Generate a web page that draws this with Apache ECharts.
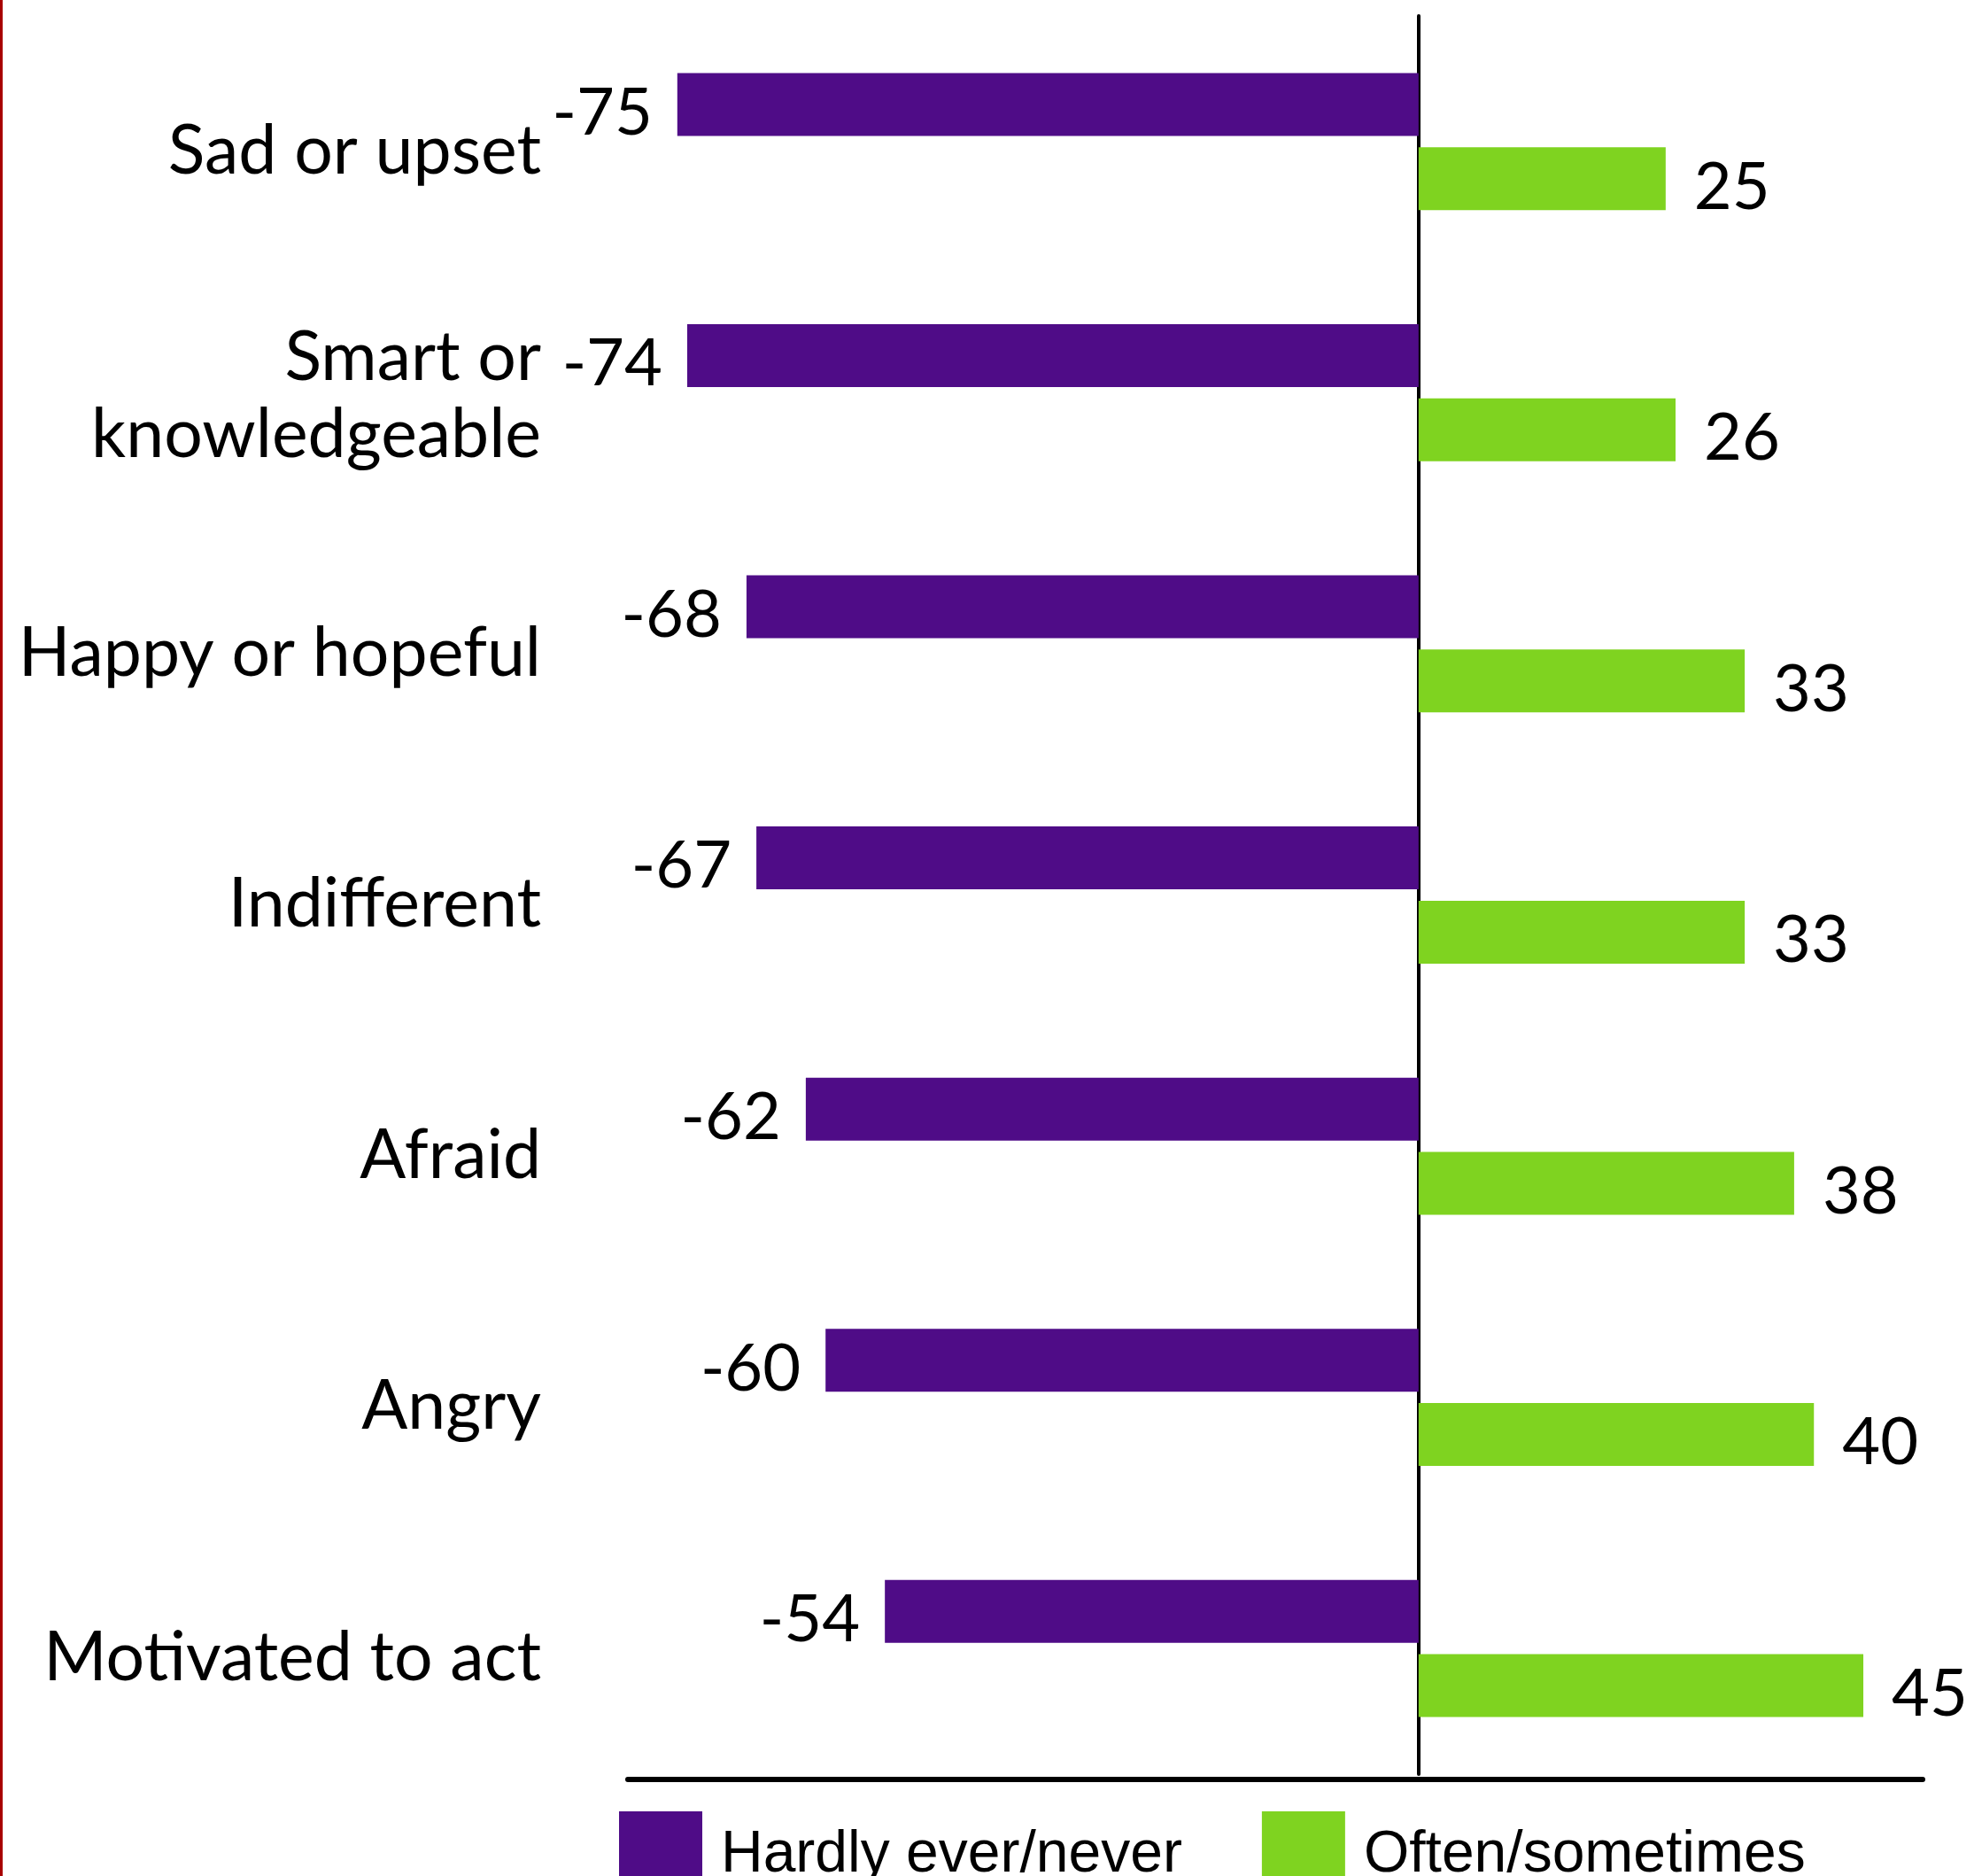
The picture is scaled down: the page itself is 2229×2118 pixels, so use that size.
<!DOCTYPE html>
<html>
<head>
<meta charset="utf-8">
<script src="https://cdn.jsdelivr.net/npm/echarts@6/dist/echarts.min.js"></script>
<style>
  html, body {margin: 0; padding: 0; background: #fff;}
  #chart {width: 2229px; height: 2118px;}
</style>
</head>
<body>
<div id="chart"></div>
<script>
var categories = ['Sad or upset', 'Smart or\nknowledgeable', 'Happy or hopeful', 'Indifferent', 'Afraid', 'Angry', 'Motivated to act'];
var hardlyEver = [-75, -74, -68, -67, -62, -60, -54];
var oftenSometimes = [25, 26, 33, 33, 38, 40, 45];
var seriesNames = ['Hardly ever/never', 'Often/sometimes'];

var chart = echarts.init(document.getElementById('chart'));

var labelFont = {fontFamily: 'Lato', fontSize: 74, color: '#000'};
var catFont = {fontFamily: 'Lato', fontSize: 77, color: '#000', align: 'right'};

var option = {
    animation: false,
    backgroundColor: '#fff',
    grid: {left: 709, right: 58, top: 18, bottom: 115},
    xAxis: {
        type: 'value', min: -80, max: 51, offset: 6,
        axisLine: {show: true, onZero: false, lineStyle: {color: '#000', width: 6}},
        axisTick: {show: false}, axisLabel: {show: false}, splitLine: {show: false}
    },
    yAxis: {
        type: 'category', data: categories, inverse: true,
        axisLine: {show: true, onZero: true, lineStyle: {color: '#000', width: 4}},
        axisTick: {show: false},
        axisLabel: {
            margin: 98, align: 'right',
            formatter: function (v) {
                var lines = v.split('\n');
                if (lines.length === 1) return '{l|' + v + '}';
                return '{m1|' + lines[0] + '}\n{m|' + lines[1] + '}';
            },
            rich: {
                l: Object.assign({lineHeight: 70, padding: [22, 0, 0, 0]}, catFont),
                m1: Object.assign({lineHeight: 95, padding: [16, 0, 0, 0]}, catFont),
                m: Object.assign({lineHeight: 95}, catFont)
            }
        }
    },
    legend: {
        left: 694, top: 2040, icon: 'rect', itemWidth: 94, itemHeight: 100, itemGap: 90,
        textStyle: {fontFamily: "'Liberation Sans', Arial", fontSize: 66, color: '#000', padding: [0, 0, 0, 16]},
        data: seriesNames
    },
    series: [
        {
            name: seriesNames[0], type: 'bar', data: hardlyEver, barWidth: 71, barGap: '18%',
            itemStyle: {color: '#4f0c87'},
            label: Object.assign({show: true, position: 'left', distance: 28, offset: [0, 10]}, labelFont)
        },
        {
            name: seriesNames[1], type: 'bar', data: oftenSometimes, barWidth: 71,
            itemStyle: {color: '#7fd320'},
            label: Object.assign({show: true, position: 'right', distance: 32, offset: [0, 10]}, labelFont)
        }
    ],
    graphic: [
        {type: 'rect', left: 0, top: 0, shape: {width: 3, height: 2118}, style: {fill: '#a80000'}}
    ]
};
chart.setOption(option);
</script>
</body>
</html>
